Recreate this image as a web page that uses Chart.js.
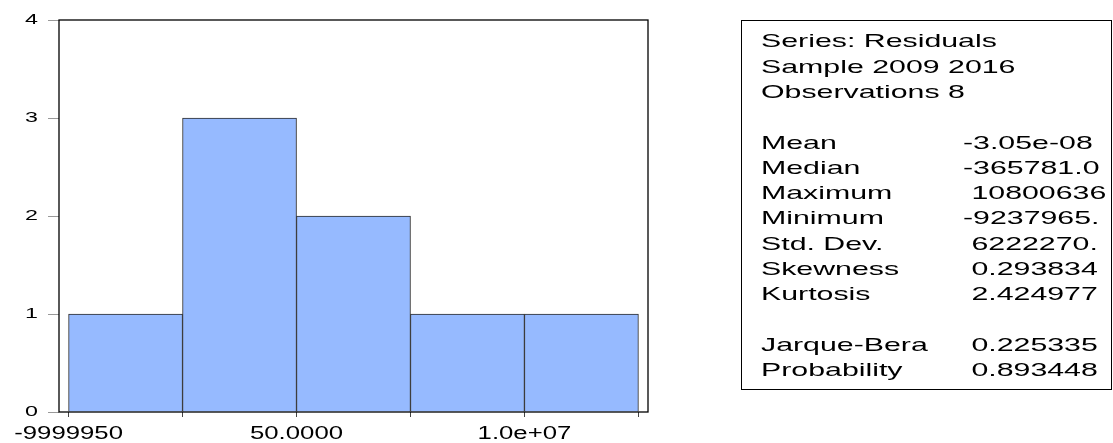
<!DOCTYPE html>
<html>
<head>
<meta charset="utf-8">
<script src="https://cdn.jsdelivr.net/npm/chart.js@4/dist/chart.umd.min.js"></script>
<style>
  html, body { margin: 0; padding: 0; background: #fff; }
  #wrap { position: relative; width: 1113px; height: 443px; }
</style>
</head>
<body>
<div id="wrap"><canvas id="c"></canvas></div>
<script>
// ---- data ----
const binEdges = [-10000000, -5000000, 0, 5000000, 10000000, 15000000];
const binCenters = [-7500000, -2500000, 2500000, 7500000, 12500000];
const binCounts = [1, 3, 2, 1, 1];
const xTickValues = [-10000000, 0, 10000000];
const xTickLabels = ['-9999950', '50.0000', '1.0e+07'];
const yTickValues = [0, 1, 2, 3, 4];

const headerLines = ['Series: Residuals', 'Sample 2009 2016', 'Observations 8'];
const statNames = ['Mean', 'Median', 'Maximum', 'Minimum', 'Std. Dev.', 'Skewness', 'Kurtosis'];
const statValues = ['-3.05e-08', '-365781.0', ' 10800636', '-9237965.', ' 6222270.', ' 0.293834', ' 2.424977'];
const testNames = ['Jarque-Bera', 'Probability'];
const testValues = [' 0.225335', ' 0.893448'];

const FONT = '"Liberation Sans", Arial, Helvetica, sans-serif';

function stretchText(ctx, text, x, y, size, sx, align) {
  ctx.save();
  ctx.translate(x, y);
  ctx.scale(sx, 1);
  ctx.font = size + 'px ' + FONT;
  ctx.fillStyle = '#000';
  ctx.textAlign = align;
  ctx.textBaseline = 'alphabetic';
  ctx.fillText(text, 0, 0);
  ctx.restore();
}

const decorations = {
  id: 'decorations',
  afterDraw(chart) {
    const ctx = chart.ctx;
    const a = chart.chartArea;
    const xs = chart.scales.x, ys = chart.scales.y;
    // plot frame
    ctx.save();
    ctx.strokeStyle = '#000';
    ctx.lineWidth = 1.3;
    ctx.strokeRect(a.left, a.top, a.right - a.left, a.bottom - a.top);
    ctx.restore();
    // y labels
    yTickValues.forEach(v => {
      stretchText(ctx, String(v), 38, ys.getPixelForValue(v) + 4, 15.5, 1.5, 'right');
    });
    // x labels
    xTickValues.forEach((v, i) => {
      stretchText(ctx, xTickLabels[i], xs.getPixelForValue(v), 439, 18, 1.43, 'center');
    });
    // stats panel
    const bx = 741.5, by = 20.5, bw = 1111.5 - 741.5, bh = 389.5 - 20.5;
    ctx.save();
    ctx.strokeStyle = '#000';
    ctx.lineWidth = 1;
    ctx.strokeRect(bx, by, bw, bh);
    ctx.restore();
    const x1 = 761, x2 = 963, base = 47.3, step = 25.3, fs = 18.6, sx = 1.63;
    headerLines.forEach((t, i) => stretchText(ctx, t, x1, base + step * i, fs, sx, 'left'));
    statNames.forEach((t, i) => {
      stretchText(ctx, t, x1, base + step * (4 + i), fs, sx, 'left');
      stretchText(ctx, statValues[i], x2, base + step * (4 + i), fs, sx, 'left');
    });
    testNames.forEach((t, i) => {
      stretchText(ctx, t, x1, base + step * (12 + i), fs, sx, 'left');
      stretchText(ctx, testValues[i], x2, base + step * (12 + i), fs, sx, 'left');
    });
  }
};

new Chart(document.getElementById('c'), {
  type: 'bar',
  data: {
    datasets: [{
      data: binCenters.map((c, i) => ({ x: c, y: binCounts[i] })),
      backgroundColor: '#96BAFF',
      borderColor: '#2a2a2a',
      borderWidth: 1,
      borderSkipped: 'bottom',
      categoryPercentage: 1.0,
      barPercentage: 1.0
    }]
  },
  options: {
    responsive: true,
    maintainAspectRatio: false,
    animation: false,
    layout: { padding: { left: 0, top: 20, right: 1113 - 648, bottom: 0 } },
    plugins: { legend: { display: false }, tooltip: { enabled: false } },
    scales: {
      x: {
        type: 'linear',
        min: -10420000,
        max: 15420000,
        offset: false,
        grid: { offset: false, drawOnChartArea: false, drawTicks: true, tickLength: 5, color: '#444' },
        border: { display: false },
        ticks: { display: false },
        afterBuildTicks(scale) { scale.ticks = binEdges.map(v => ({ value: v })); },
        afterFit(scale) { scale.height = 443 - 412; }
      },
      y: {
        min: 0,
        max: 4,
        grid: { drawOnChartArea: false, drawTicks: true, tickLength: 11, color: '#999' },
        border: { display: false },
        ticks: { display: false, stepSize: 1 },
        afterBuildTicks(scale) { scale.ticks = yTickValues.map(v => ({ value: v })); },
        afterFit(scale) { scale.width = 59; }
      }
    }
  },
  plugins: [decorations]
});
</script>
</body>
</html>
